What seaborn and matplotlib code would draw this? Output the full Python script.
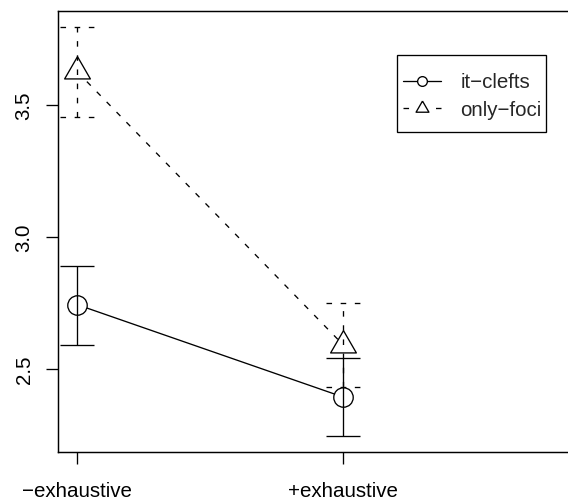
import numpy as np
import pandas as pd
import matplotlib
matplotlib.use("Agg")
import matplotlib.pyplot as plt
from matplotlib.lines import Line2D
from matplotlib.patches import Rectangle
import seaborn as sns

# Condition labels on the x axis
conditions = ["\u2212exhaustive", "+exhaustive"]

# Mean ratings with lower / upper interval bounds per construction
it_clefts_mean = [2.745, 2.395]
it_clefts_lo = [2.592, 2.247]
it_clefts_hi = [2.893, 2.543]

only_foci_mean = [3.628, 2.593]
only_foci_lo = [3.457, 2.434]
only_foci_hi = [3.795, 2.752]

series_names = ["it\u2212clefts", "only\u2212foci"]
y_ticks = [2.5, 3.0, 3.5]

rows = []
for name, means, los, his in [
    (series_names[0], it_clefts_mean, it_clefts_lo, it_clefts_hi),
    (series_names[1], only_foci_mean, only_foci_lo, only_foci_hi),
]:
    for i, cond in enumerate(conditions):
        rows.append({"construction": name, "condition": cond, "pos": i,
                     "mean": means[i], "lo": los[i], "hi": his[i]})
df = pd.DataFrame(rows)

sns.set_theme(style="ticks")
plt.rcParams["font.family"] = ["Liberation Sans", "DejaVu Sans"]
plt.rcParams["lines.scale_dashes"] = False

LW = 0.95
FS = 14.8
DASH = (4.0, 6.2)

# R-style open triangle, centred on its centroid
tri = [(0.0, 1.5551), (1.3468, -0.7776), (-1.3468, -0.7776), (0.0, 1.5551)]

W, H = 568, 501
fig = plt.figure(figsize=(W / 100, H / 100), dpi=100)
ax_left, ax_right, ax_top, ax_bottom = 58, 570, 11, 452
ax = fig.add_axes([ax_left / W, 1 - ax_bottom / H,
                   (ax_right - ax_left) / W, (ax_bottom - ax_top) / H])

sns.lineplot(data=df, x="pos", y="mean", style="construction",
             markers={series_names[0]: "o", series_names[1]: tri},
             dashes={series_names[0]: "", series_names[1]: DASH},
             color="black", linewidth=LW, markersize=14,
             markerfacecolor="white", markeredgecolor="black",
             markeredgewidth=LW, estimator=None, errorbar=None,
             sort=False, legend=False, ax=ax)

# bigger triangle for only-foci
for line in ax.get_lines():
    if line.get_linestyle() != "-":
        line.set_markersize(21.4)

# interval bars with caps
cap = 0.064
for name, ls in [(series_names[0], "-"), (series_names[1], (0, DASH))]:
    sub = df[df["construction"] == name]
    ax.vlines(sub["pos"], sub["lo"], sub["hi"], colors="black",
              linestyles=[ls], linewidth=LW, zorder=4)
    for y in ("lo", "hi"):
        ax.hlines(sub[y], sub["pos"] - cap, sub["pos"] + cap, colors="black",
                  linestyles=[ls], linewidth=LW, zorder=4)

ax.set_xlim(-0.0714, 1.853)
ax.set_ylim(2.1867, 3.857)
ax.set_xticks(range(len(conditions)))
ax.set_xticklabels(conditions)
ax.set_yticks(y_ticks)
ax.set_yticklabels([f"{v:.1f}" for v in y_ticks], rotation=90, va="center")
ax.set_xlabel("")
ax.set_ylabel("")
ax.tick_params(axis="both", labelsize=FS, length=8.6, width=LW, color="black",
               labelcolor="black")
ax.tick_params(axis="y", pad=9)
ax.tick_params(axis="x", pad=13.2)
for side in ("left", "bottom", "top", "right"):
    ax.spines[side].set_visible(True)
    ax.spines[side].set_linewidth(1.05)
    ax.spines[side].set_color("black")
ax.grid(False)

# legend box
fig.add_artist(Rectangle((397 / W, 1 - 132 / H), (546 - 397) / W, (132 - 55) / H,
                         transform=fig.transFigure, fill=False,
                         edgecolor="black", linewidth=LW))
handles = [
    Line2D([], [], color="black", linewidth=LW, linestyle="-", marker="o",
           markersize=7, markerfacecolor="white", markeredgecolor="black",
           markeredgewidth=LW),
    Line2D([], [], color="black", linewidth=LW, linestyle=(0, (4.0, 19.4)),
           marker=tri, markersize=10.7, markerfacecolor="white",
           markeredgecolor="black", markeredgewidth=LW),
]
fig.legend(handles, series_names, loc="upper left",
           bbox_to_anchor=(403 / W, 1 - 73 / H), bbox_transform=fig.transFigure,
           frameon=False, borderpad=0, borderaxespad=0, handlelength=1.85,
           handletextpad=0.95, labelspacing=0.42, fontsize=FS)

fig.savefig("out.png", dpi=100)
